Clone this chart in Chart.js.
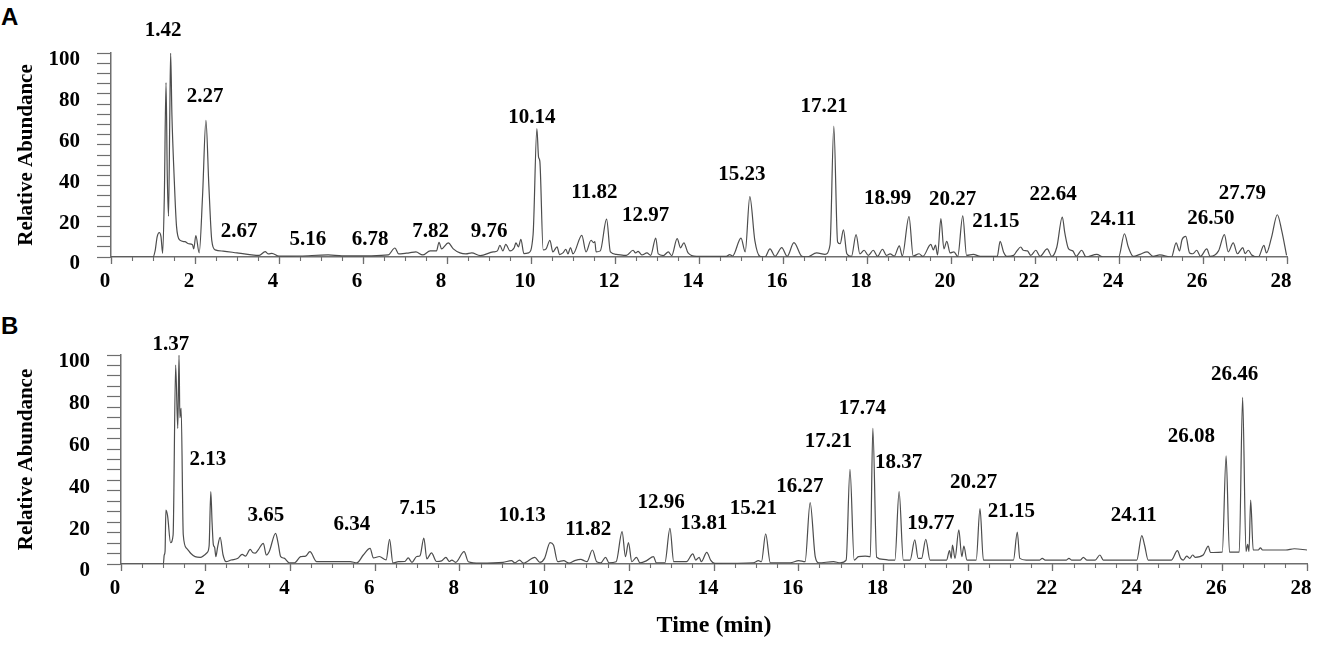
<!DOCTYPE html>
<html>
<head>
<meta charset="utf-8">
<script src="https://cdn.jsdelivr.net/npm/chart.js"></script>
<style>
  body { margin: 0; background: #fff; }
  #wrap { position: relative; width: 1317px; height: 645px; overflow: hidden; }
  canvas { position: absolute; left: 0; }
  .panel { position: absolute; left: 1px; font: bold 24px "Liberation Sans", Arial, sans-serif; line-height: 1; color: #000; }
</style>
</head>
<body>
<div id="wrap">
  <div class="panel" style="top:5px">A</div>
  <div class="panel" style="top:314px">B</div>
  <canvas id="chartA" width="1317" height="300" style="top:0"></canvas>
  <canvas id="chartB" width="1317" height="345" style="top:300px"></canvas>
</div>
<script>
// chromatogram traces: [time (min), relative abundance]
const traceA = [
  [0,0],[1.0,0],[1.05,3],[1.1,10],[1.15,12],[1.19,10],[1.23,1.8],[1.27,30],[1.31,85.5],[1.34,40],
  [1.37,20],[1.4,70],[1.42,100],[1.45,70],[1.5,41],[1.56,15],[1.64,8.3],[1.76,7.5],[1.85,6.5],[1.94,6],
  [1.97,4],[2.02,10.5],[2.1,2],[2.18,30],[2.26,67],[2.33,35],[2.4,8],[2.48,3.5],[2.67,2.9],[3.0,2],
  [3.3,1.2],[3.53,0.8],[3.67,2.6],[3.75,1.5],[3.83,1.8],[4.0,0.4],[4.5,0.5],[5.17,1],[5.5,0.6],[6.2,0.6],
  [6.6,1],[6.76,4.4],[6.85,1.5],[7.0,1.8],[7.1,2],[7.26,2.5],[7.42,1],[7.6,3],[7.75,3],[7.81,7.2],
  [7.87,4],[8.03,6.9],[8.15,4],[8.31,2],[8.45,1.5],[8.59,2],[8.79,0.7],[9.1,2.5],[9.2,3],[9.26,5.7],
  [9.33,3],[9.4,6.2],[9.5,3],[9.6,4.5],[9.64,6.9],[9.7,5],[9.76,8.7],[9.83,1.7],[9.94,2],[10.05,11],
  [10.14,63],[10.18,49],[10.21,47],[10.29,3.5],[10.36,4],[10.45,8.2],[10.52,2.5],[10.62,5],[10.68,1.2],[10.76,2],
  [10.83,3.8],[10.88,1.5],[10.94,4.6],[11.0,1.5],[11.21,10.6],[11.31,2.5],[11.43,8.2],[11.49,7],[11.52,7.5],[11.55,2.5],
  [11.65,3],[11.8,18.6],[11.89,2.5],[12.03,1.3],[12.27,0.8],[12.43,3.3],[12.49,2],[12.55,2.8],[12.64,1],[12.76,2],
  [12.85,0.8],[12.97,9.3],[13.03,1.5],[13.15,0.7],[13.27,2.5],[13.35,0.7],[13.48,9],[13.56,4.5],[13.64,6.9],[13.74,2],
  [13.94,0.3],[14.65,0.3],[14.73,1.2],[14.8,0.5],[15.0,9.3],[15.1,2.5],[15.21,29.6],[15.33,8],[15.45,0.3],[15.57,0],
  [15.69,4],[15.81,0.3],[15.97,4.6],[16.1,0.3],[16.26,7],[16.45,0.3],[16.57,0],[16.8,2],[17.0,1.3],[17.12,6],
  [17.21,64.2],[17.3,7.4],[17.36,6.5],[17.44,13.3],[17.52,1.6],[17.63,0.3],[17.74,11],[17.83,1.5],[17.93,3.3],[18.03,0.8],
  [18.15,3.3],[18.25,0.3],[18.37,3.8],[18.46,0.8],[18.55,1.5],[18.65,0.5],[18.77,5.5],[18.84,0.5],[19.0,19.8],[19.1,0.5],
  [19.24,1.6],[19.33,0.3],[19.52,6.2],[19.58,3.5],[19.63,5.8],[19.68,1],[19.76,18.8],[19.83,4],[19.9,7.7],[19.98,2],
  [20.07,2.5],[20.16,0.3],[20.28,20.2],[20.37,0.8],[20.53,1.3],[20.7,0.3],[21.1,0.3],[21.17,7.7],[21.25,2.5],[21.33,0.3],
  [21.49,0.8],[21.57,3],[21.66,4.9],[21.72,3.3],[21.82,3],[21.9,0.8],[22.02,3.3],[22.12,0.3],[22.29,4],[22.4,0.3],
  [22.52,4.9],[22.65,19.6],[22.71,11.8],[22.8,4],[22.9,3],[22.98,0.3],[23.11,3.3],[23.22,0],[23.47,1.3],[23.63,0],
  [23.99,0],[24.13,11.4],[24.22,5],[24.34,0.3],[24.5,1.3],[24.67,2.5],[24.81,0.3],[24.97,1],[25.25,0],[25.36,6.9],
  [25.44,3],[25.5,8.5],[25.59,10.1],[25.68,2],[25.76,1.6],[25.85,3.3],[25.94,0.3],[26.09,4],[26.17,0.3],[26.37,3],
  [26.51,11],[26.6,2.5],[26.72,6.9],[26.82,1.6],[26.95,4.6],[27.0,1.6],[27.08,3.3],[27.16,1],[27.32,0],[27.45,5.7],
  [27.51,2],[27.63,9.5],[27.77,20.7],[27.87,13.3],[27.99,0.8]
];

const traceB = [
  [0,0],[1.0,0],[1.02,4.3],[1.04,6],[1.06,25.8],[1.1,23],[1.17,10.2],[1.23,13.9],[1.29,95.2],[1.34,64.9],
  [1.37,100],[1.39,70],[1.42,74.5],[1.47,14],[1.55,7.5],[1.65,5],[1.75,3.5],[1.87,3.2],[2.03,5.4],[2.08,8.6],
  [2.12,34.6],[2.15,20],[2.18,9.3],[2.21,8],[2.24,3.5],[2.28,8],[2.34,12.7],[2.41,4.3],[2.48,1.1],[2.6,1.9],
  [2.76,2.7],[2.86,4.6],[2.94,3.8],[3.05,7],[3.11,5.5],[3.17,5.2],[3.24,6.8],[3.36,9.9],[3.43,4.3],[3.5,6],
  [3.65,14.7],[3.71,9.9],[3.77,3.5],[3.85,2.8],[3.97,0.6],[4.1,0.6],[4.24,3.5],[4.36,3.8],[4.46,5.9],[4.62,1.1],
  [5.41,1.1],[5.57,0.6],[5.72,4.3],[5.88,7.5],[5.96,2.9],[6.1,3.6],[6.26,2],[6.34,11.8],[6.42,0.5],[6.55,1.1],
  [6.7,1.2],[6.78,2.9],[6.87,0.8],[6.98,3.6],[7.06,4],[7.15,12.4],[7.22,2.5],[7.33,5.3],[7.45,1.2],[7.57,1.5],
  [7.67,3.2],[7.75,1.2],[7.81,1.9],[7.9,0.8],[8.1,5.9],[8.2,1.1],[8.47,0.4],[9.02,0.8],[9.22,1.6],[9.3,0.6],
  [9.41,1.9],[9.5,0.4],[9.77,3.2],[9.89,0.8],[10.0,2.7],[10.13,10.2],[10.21,9.1],[10.31,1.1],[10.45,1.6],[10.58,0.4],
  [10.71,1.6],[10.86,2.2],[10.93,1.6],[11.0,1.1],[11.13,6.7],[11.23,1.1],[11.33,0.6],[11.44,3.2],[11.52,0.6],[11.69,1.1],
  [11.83,15.5],[11.91,3.5],[11.98,10.2],[12.06,1.1],[12.17,3.2],[12.25,0.6],[12.41,1.6],[12.57,3.5],[12.64,0.6],[12.84,0.6],
  [12.96,17],[13.05,1.1],[13.35,1.1],[13.5,4.8],[13.57,1.9],[13.65,3.2],[13.7,1.1],[13.83,5.6],[13.92,1.9],[14.02,0.3],
  [14.93,0.6],[15.05,1.6],[15.12,1.1],[15.22,14.4],[15.33,0.6],[15.8,0.6],[16.0,1.6],[16.15,1.1],[16.27,29.4],[16.39,3.5],
  [16.47,0.6],[16.82,1.1],[16.98,0.6],[17.12,1.9],[17.21,45.3],[17.31,1.9],[17.41,3.5],[17.57,3.8],[17.69,3.5],[17.75,64.9],
  [17.84,3.2],[18.0,2.2],[18.12,1.9],[18.27,1.9],[18.37,34.6],[18.47,1.9],[18.63,1.9],[18.74,11.5],[18.82,2.7],[18.9,2.7],
  [19.0,11.8],[19.1,1.9],[19.49,1.9],[19.56,6.4],[19.6,2.7],[19.63,9.1],[19.69,2.7],[19.78,16.3],[19.85,3.5],[19.9,8.6],
  [19.97,1.9],[20.19,1.9],[20.28,26.5],[20.36,1.9],[21.07,1.9],[21.16,15.3],[21.22,2.7],[21.37,1.9],[21.69,1.9],[21.75,2.7],
  [21.82,1.9],[22.32,1.9],[22.38,2.7],[22.44,1.9],[22.65,1.9],[22.72,3.2],[22.8,1.9],[23.0,1.9],[23.11,4.3],[23.19,1.9],
  [23.98,1.9],[24.1,13.6],[24.17,8.6],[24.25,1.9],[24.8,1.9],[24.94,6.4],[25.02,2.7],[25.08,1.9],[25.16,3.8],[25.23,2.7],
  [25.3,4.3],[25.36,3.2],[25.55,4.3],[25.67,8.6],[25.72,5.5],[25.78,5.5],[26.0,5.7],[26.09,51.7],[26.17,5.7],[26.4,5.7],
  [26.48,79.7],[26.56,6],[26.6,9.4],[26.63,6],[26.67,30.6],[26.73,6.7],[26.85,6.7],[26.9,7.7],[26.95,6.7],[27.5,6.7],
  [27.7,7.3],[28.0,6.7]
];

// retention times printed over the peaks
const peakLabelsA = ['1.42','2.27','2.67','5.16','6.78','7.82','9.76','10.14','11.82','12.97',
  '15.23','17.21','18.99','20.27','21.15','22.64','24.11','26.50','27.79'];
const peakLabelsB = ['1.37','2.13','3.65','6.34','7.15','10.13','11.82','12.96','13.81','15.21',
  '16.27','17.21','17.74','18.37','19.77','20.27','21.15','24.11','26.08','26.46'];

const yTickValues = [0, 20, 40, 60, 80, 100];
const xRange = [0, 28];

// where each label text sits, in axis units (time, abundance)
const labelAnchorsA = [[1.24,110.8],[2.24,78.4],[3.05,12.3],[4.69,8.3],[6.17,8.7],[7.61,12.7],[9.0,12.7],
  [10.02,68.5],[11.51,31.5],[12.73,20.1],[15.02,40.2],[16.98,73.7],[18.49,28.8],[20.04,28.3],[21.07,17.3],
  [22.43,30.4],[23.86,18.5],[26.19,19],[26.94,31.2]];
const labelAnchorsB = [[1.18,104.8],[2.05,49.8],[3.42,23.4],[5.45,18.7],[7.0,26.6],[9.47,23.1],[11.03,16.3],
  [12.75,29.5],[13.76,19.5],[14.93,26.3],[16.03,37],[16.7,58.5],[17.5,74.5],[18.36,48.5],[19.12,19.5],
  [20.13,38.9],[21.02,25],[23.91,23.4],[25.27,61.2],[26.29,90.8]];

const SERIF = '"Liberation Serif", "Times New Roman", serif';

const peakLabelPlugin = {
  id: 'peakLabels',
  afterDatasetsDraw(chart, args, opts) {
    const ctx = chart.ctx;
    const xs = chart.scales.x, ys = chart.scales.y;
    ctx.save();
    ctx.font = 'bold 21px ' + SERIF;
    ctx.fillStyle = '#000';
    ctx.textAlign = 'center';
    ctx.textBaseline = 'middle';
    opts.labels.forEach((txt, i) => {
      const a = opts.anchors[i];
      ctx.fillText(txt, xs.getPixelForValue(a[0]), ys.getPixelForValue(a[1]));
    });
    ctx.restore();
  }
};

function makeChart(id, trace, labels, anchors, geo) {
  const axisColor = '#6e6e6e';
  return new Chart(document.getElementById(id), {
    type: 'line',
    data: {
      datasets: [{
        data: trace.map(p => ({ x: p[0], y: p[1] })),
        borderColor: '#4d4d4d',
        borderWidth: 1.2,
        pointRadius: 0,
        fill: false,
        cubicInterpolationMode: 'monotone'
      }]
    },
    options: {
      responsive: false,
      animation: false,
      events: [],
      layout: { padding: { top: geo.top, right: geo.right, left: 0, bottom: 0 } },
      plugins: {
        legend: { display: false },
        tooltip: { enabled: false },
        peakLabels: { labels: labels, anchors: anchors }
      },
      scales: {
        x: {
          type: 'linear', position: 'bottom',
          min: xRange[0], max: xRange[1],
          ticks: {
            stepSize: 2, autoSkip: false, maxRotation: 0, padding: 5, labelOffset: -6,
            color: '#000', font: { family: SERIF, weight: 'bold', size: 21 }
          },
          grid: { drawOnChartArea: false, tickLength: 7, tickColor: axisColor, tickWidth: 1.3 },
          border: { display: true, color: axisColor, width: 1.5 },
          title: {
            display: geo.xTitle, text: 'Time (min)', color: '#000',
            font: { family: SERIF, weight: 'bold', size: 24 }, padding: { top: 0, bottom: 5 }
          },
          afterFit(s) { s.height = geo.xh; s.paddingLeft = 0; s.paddingRight = 0; }
        },
        xMinor: {
          type: 'linear', position: 'bottom', weight: -1,
          min: xRange[0], max: xRange[1],
          ticks: { stepSize: 0.5, autoSkip: false, callback: () => '' },
          grid: { drawOnChartArea: false, tickLength: 4, tickColor: axisColor, tickWidth: 1.1 },
          border: { display: false },
          afterFit(s) { s.height = 0; s.paddingLeft = 0; s.paddingRight = 0; }
        },
        y: {
          min: 0, max: 100,
          ticks: {
            stepSize: 5, autoSkip: false, padding: 17, labelOffset: 7,
            callback: v => (yTickValues.includes(v) ? String(v) : ''),
            color: '#000', font: { family: SERIF, weight: 'bold', size: 21 }
          },
          grid: { drawOnChartArea: false, tickLength: 14, tickColor: axisColor, tickWidth: 1.2 },
          border: { display: true, color: axisColor, width: 1.5 },
          title: {
            display: true, text: 'Relative Abundance', color: '#000',
            font: { family: SERIF, weight: 'bold', size: 21 }, padding: { top: 14, bottom: 0 }
          },
          afterFit(s) { s.width = geo.yw; s.paddingTop = 0; s.paddingBottom = 0; }
        }
      }
    },
    plugins: [peakLabelPlugin]
  });
}

makeChart('chartA', traceA, peakLabelsA, labelAnchorsA, { top: 53, right: 30, yw: 111, xh: 43, xTitle: false });
makeChart('chartB', traceB, peakLabelsB, labelAnchorsB, { top: 55, right: 10, yw: 121, xh: 81, xTitle: true });
</script>
</body>
</html>
